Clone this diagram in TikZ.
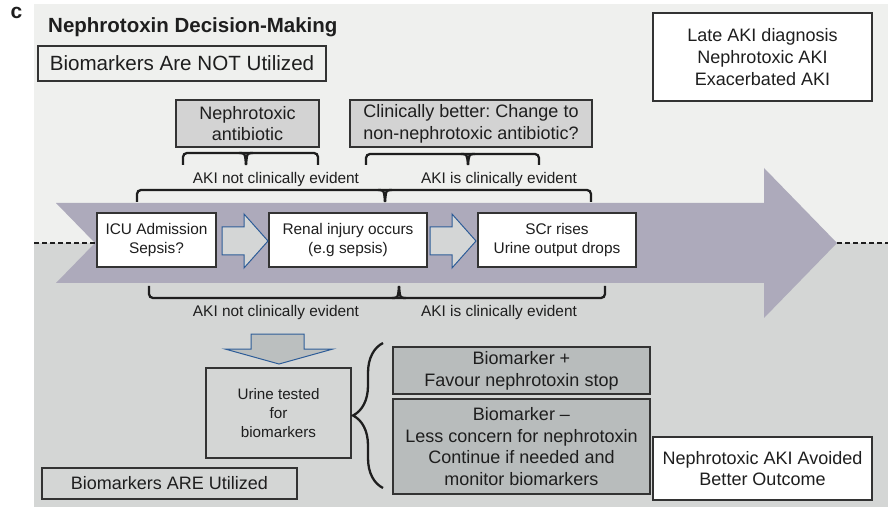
\documentclass[tikz,border=0pt]{standalone}
\usepackage{fontspec}
\setmainfont{Liberation Sans}
\usetikzlibrary{decorations.pathreplacing}
\frenchspacing
\definecolor{bgtop}{HTML}{EFF0EE}
\definecolor{bgbot}{HTML}{D4D6D5}
\definecolor{arrowc}{HTML}{ADAABB}
\definecolor{boxgray}{HTML}{D3D3D3}
\definecolor{boxdark}{HTML}{B8BCBC}
\definecolor{downfill}{HTML}{BBBFBF}
\definecolor{smallfill}{HTML}{D4D6D6}
\definecolor{edge}{HTML}{333333}
\definecolor{blueedge}{HTML}{2E5D98}
\definecolor{txt}{HTML}{1E1E1E}
\newcommand\fsbig{\fontsize{20.6bp}{24bp}\selectfont}
\newcommand\fsmid{\fontsize{18bp}{21.7bp}\selectfont}
\newcommand\fssmall{\fontsize{15.4bp}{19bp}\selectfont}
\newcommand\mybracket[5]{%
  \draw[brk] (#1,#5) -- (#1,#4) -- (#3,#4) -- (#3,#5);
  \draw[brk, rounded corners=0pt] (#2-7,#4) .. controls (#2-1,#4) .. (#2,#5);
  \draw[brk, rounded corners=0pt] (#2+7,#4) .. controls (#2+1,#4) .. (#2,#5);
}
\begin{document}
\begin{tikzpicture}[x=1bp,y=-1bp,
  box/.style={draw=edge, line width=1.2bp, align=center, inner sep=0pt, text=txt},
  lbl/.style={text=txt, inner sep=0pt, font=\fssmall},
  brk/.style={draw=txt, line width=2.3bp, rounded corners=4bp},
  barrow/.style={draw=blueedge, line width=1bp, fill=smallfill},
  dline/.style={draw=txt, line width=1.1bp, dash pattern=on 5bp off 3bp}
]
\useasboundingbox (0,0) rectangle (888,508);
\fill[white] (0,0) rectangle (888,508);
% backgrounds
\fill[bgtop] (34,4) rectangle (888,243);
\fill[bgbot] (34,243) rectangle (888,507);
% big arrow
\fill[arrowc] (56,203) -- (764,203) -- (764,168) -- (837,243) -- (764,318) -- (764,283) -- (56,283) -- (95,243) -- cycle;
\draw[dline] (34,243) -- (95,243);
\draw[dline] (837,243) -- (888,243);

% title
\node[text=txt, font=\bfseries\fontsize{21bp}{21bp}\selectfont, inner sep=0pt] (c) at (16.5,13) {c};
\node[text=txt, font=\bfseries\fontsize{20.5bp}{24bp}\selectfont, anchor=base west, inner sep=0pt] (title) at (48,33) {Nephrotoxin Decision-Making};

% boxes
\node[box, fill=bgtop, minimum width=288bp, minimum height=35bp, font=\fsbig] (notutil) at (182,63.5) {Biomarkers Are NOT Utilized};
\node[box, fill=white, minimum width=219bp, minimum height=88bp, font=\fsmid] (late) at (762.5,57) {Late AKI diagnosis\\Nephrotoxic AKI\\Exacerbated AKI};
\node[box, fill=boxgray, minimum width=143bp, minimum height=47bp, font=\fsmid] (nephab) at (247.5,123.5) {Nephrotoxic\\antibiotic};
\node[box, fill=boxgray, minimum width=242bp, minimum height=47bp, font=\fsmid] (clin) at (471,123.5) {Clinically better: Change to\\non-nephrotoxic antibiotic?};

\node[box, fill=white, line width=1.5bp, minimum width=119bp, minimum height=54bp, font=\fssmall] (icu) at (156.5,240) {ICU Admission\\Sepsis?};
\node[box, fill=white, line width=1.5bp, minimum width=158bp, minimum height=54bp, font=\fssmall] (renal) at (348,240) {Renal injury occurs\\(e.g sepsis)};
\node[box, fill=white, line width=1.5bp, minimum width=158bp, minimum height=54bp, font=\fssmall] (scr) at (557,240) {SCr rises\\Urine output drops};

\node[box, fill=bgbot, minimum width=145bp, minimum height=90bp, font=\fontsize{15.2bp}{18.6bp}\selectfont] (urine) at (278.5,413) {Urine tested\\for\\biomarkers};
\node[box, fill=boxdark, minimum width=257bp, minimum height=47bp, font=\fsmid] (bplus) at (521.5,370.5) {Biomarker +\\Favour nephrotoxin stop};
\node[box, fill=boxdark, minimum width=257bp, minimum height=95bp, font=\fsmid] (bminus) at (521.5,446.5) {Biomarker --\\Less concern for nephrotoxin\\Continue if needed and\\monitor biomarkers};
\node[box, fill=bgbot, minimum width=255bp, minimum height=31bp, font=\fsmid] (areutil) at (169.5,483.5) {Biomarkers ARE Utilized};
\node[box, fill=white, minimum width=219bp, minimum height=63bp, font=\fsmid] (avoided) at (762.5,468.5) {Nephrotoxic AKI Avoided\\Better Outcome};

% small block arrows
\draw[barrow] (222,227) -- (244,227) -- (244,214) -- (268,241) -- (244,268) -- (244,255) -- (222,255) -- cycle;
\draw[barrow] (430,227) -- (452,227) -- (452,214) -- (476,241) -- (452,268) -- (452,255) -- (430,255) -- cycle;
\draw[barrow, fill=downfill] (251,334) -- (304,334) -- (304,349) -- (333,349) -- (279,364) -- (225,349) -- (251,349) -- cycle;

% brackets
\mybracket{183}{246}{318}{153}{165}
\mybracket{366}{468}{539}{154}{165}
\mybracket{137}{385}{591}{190}{202}
\mybracket{149}{399}{605}{298}{286}
\draw[draw=txt, line width=2.3bp, decorate, decoration={brace, amplitude=30bp}] (383,488) -- (383,343);

% labels
\node[lbl] (l1) at (276,180) {AKI not clinically evident};
\node[lbl] (l2) at (499,180) {AKI is clinically evident};
\node[lbl] (l3) at (276,313) {AKI not clinically evident};
\node[lbl] (l4) at (499,313) {AKI is clinically evident};
\end{tikzpicture}
\end{document}
